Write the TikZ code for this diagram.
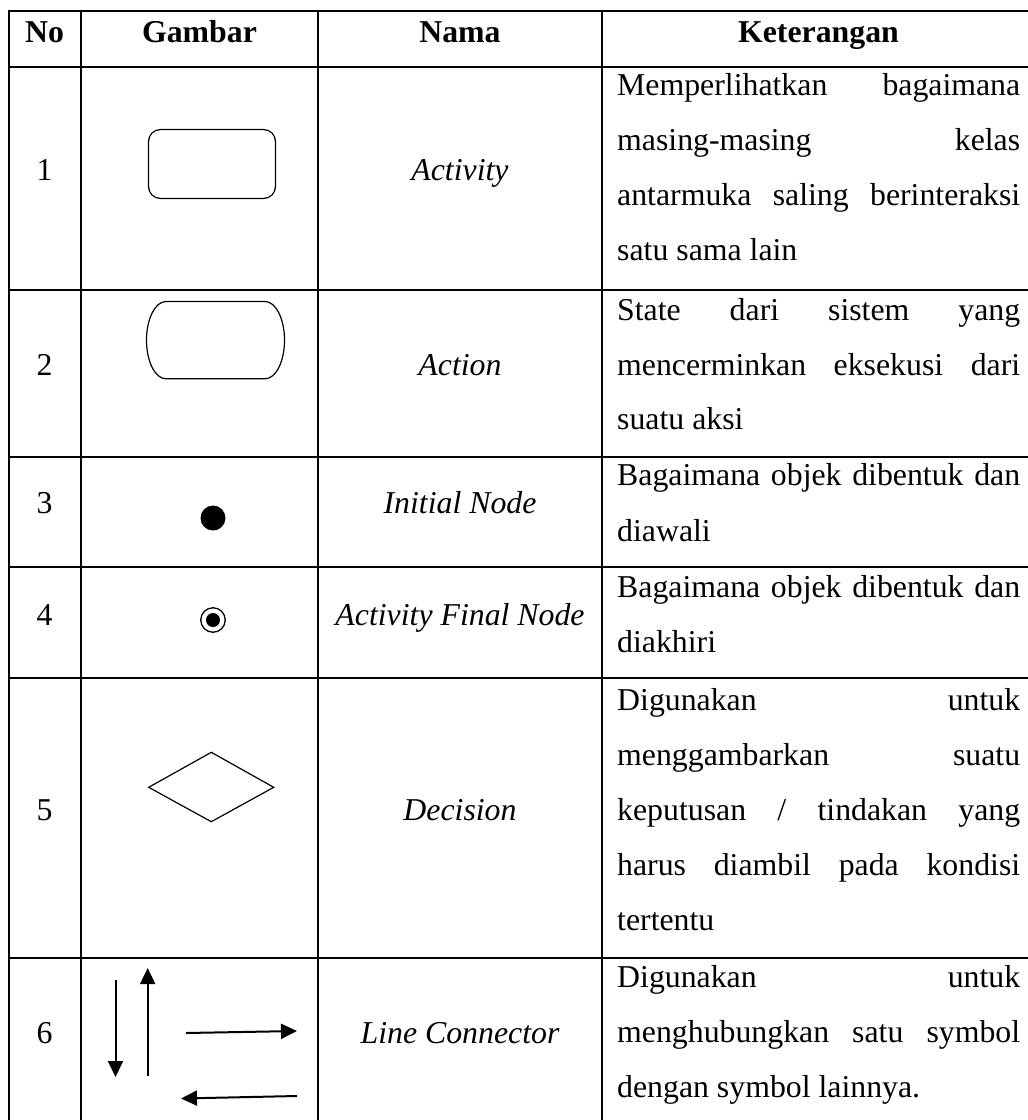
\documentclass[tikz,border=0pt]{standalone}
\usepackage{fontspec}
\setmainfont{Liberation Serif}
\usetikzlibrary{arrows.meta}
\begin{document}
\begin{tikzpicture}[x=1pt,y=-1pt,
  tablerule/.style={line width=2.3pt, line cap=rect},
  symline/.style={line width=1.2pt},
  txt/.style={inner sep=0pt, anchor=base, font=\fontsize{31.8}{55}\selectfont},
  head/.style={txt, font=\fontsize{31.8}{55}\selectfont\bfseries},
  nama/.style={txt, font=\fontsize{31.8}{55}\selectfont\itshape},
  ket/.style={txt, anchor=base west},
  conn/.style={line width=2pt, -{Triangle[length=16pt,width=15pt]}}
]
\useasboundingbox (0,0) rectangle (1028,1120);
\clip (0,0) rectangle (1028,1120);

% table rules
\foreach \yy in {11,67,290,457,567,678,958}
  \draw[tablerule] (9,\yy) -- (1040,\yy);
\foreach \xx in {9,81,318,602}
  \draw[tablerule] (\xx,11) -- (\xx,1130);

% header
\node[head] (hno)  at (44.5,42)  {No};
\node[head] (hgam) at (199.5,42) {Gambar};
\node[head] (hnam) at (460,42)   {Nama};
\node[head] (hket) at (818.5,42) {Keterangan};

% numbers
\node[txt] (n1) at (44.5,180)  {1};
\node[txt] (n2) at (44.5,375)  {2};
\node[txt] (n3) at (44.5,513)  {3};
\node[txt] (n4) at (44.5,625)  {4};
\node[txt] (n5) at (44.5,820)  {5};
\node[txt] (n6) at (44.5,1043) {6};

% names
\node[nama] (m1) at (460,180)  {Activity};
\node[nama] (m2) at (460,375)  {Action};
\node[nama] (m3) at (460,513)  {Initial Node};
\node[nama] (m4) at (460,625)  {Activity Final Node};
\node[nama] (m5) at (460,820)  {Decision};
\node[nama] (m6) at (460,1043) {Line Connector};

% descriptions
\node[ket] (k1a) at (617,95.5)  {\hbox to 403pt{Memperlihatkan\hfill bagaimana}};
\node[ket] (k1b) at (617,150.5) {\hbox to 403pt{masing-masing\hfill kelas}};
\node[ket] (k1c) at (617,205)   {\hbox to 403pt{antarmuka\hfill saling\hfill berinteraksi}};
\node[ket] (k1d) at (617,260)   {satu sama lain};

\node[ket] (k2a) at (617,320) {\hbox to 403pt{State\hfill dari\hfill sistem\hfill yang}};
\node[ket] (k2b) at (617,375) {\hbox to 403pt{mencerminkan\hfill eksekusi\hfill dari}};
\node[ket] (k2c) at (617,429) {suatu aksi};

\node[ket] (k3a) at (617,485) {\hbox to 403pt{Bagaimana\hfill objek\hfill dibentuk\hfill dan}};
\node[ket] (k3b) at (617,541) {diawali};

\node[ket] (k4a) at (617,597) {\hbox to 403pt{Bagaimana\hfill objek\hfill dibentuk\hfill dan}};
\node[ket] (k4b) at (617,652) {diakhiri};

\node[ket] (k5a) at (617,710) {\hbox to 403pt{Digunakan\hfill untuk}};
\node[ket] (k5b) at (617,765) {\hbox to 403pt{menggambarkan\hfill suatu}};
\node[ket] (k5c) at (617,820) {\hbox to 403pt{keputusan\hfill /\hfill tindakan\hfill yang}};
\node[ket] (k5d) at (617,875) {\hbox to 403pt{harus\hfill diambil\hfill pada\hfill kondisi}};
\node[ket] (k5e) at (617,930) {tertentu};

\node[ket] (k6a) at (617,987)  {\hbox to 403pt{Digunakan\hfill untuk}};
\node[ket] (k6b) at (617,1042) {\hbox to 403pt{menghubungkan\hfill satu\hfill symbol}};
\node[ket] (k6c) at (617,1097) {dengan symbol lainnya.};

% symbol: activity
\node[draw, symline, rounded corners=12pt, minimum width=127pt, minimum height=69pt, inner sep=0pt] (act) at (212,164) {};

% symbol: action
\draw[symline] (166,301.5) -- (265,301.5)
  .. controls (275.8,301.5) and (284.5,318.8) .. (284.5,340.2)
  .. controls (284.5,361.6) and (275.8,378.8) .. (265,378.8)
  -- (166,378.8)
  .. controls (155.2,378.8) and (146.5,361.6) .. (146.5,340.2)
  .. controls (146.5,318.8) and (155.2,301.5) .. (166,301.5) -- cycle;

% symbol: initial node
\node[circle, fill=black, minimum size=25pt, inner sep=0pt] (init) at (213,518) {};

% symbol: activity final node
\node[circle, draw, line width=1.3pt, minimum size=24.5pt, inner sep=0pt] (fin) at (213,620) {};
\node[circle, fill=black, minimum size=14pt, inner sep=0pt] (finin) at (213,620) {};

% symbol: decision
\coordinate (dl) at (148.7,787.3);
\coordinate (dt) at (211.3,752.3);
\coordinate (dr) at (273.7,787.3);
\coordinate (db) at (211.3,821.7);
\draw[symline] (dl) -- (dt) -- (dr) -- (db) -- cycle;

% symbol: line connectors
\coordinate (dnA) at (115.5,980);
\coordinate (dnB) at (115.5,1077);
\coordinate (upA) at (147.7,1076);
\coordinate (upB) at (147.7,968);
\coordinate (rtA) at (186,1033);
\coordinate (rtB) at (297,1031);
\coordinate (lfA) at (297,1096);
\coordinate (lfB) at (181,1098.5);
\draw[conn] (dnA) -- (dnB);
\draw[conn] (upA) -- (upB);
\draw[conn] (rtA) -- (rtB);
\draw[conn] (lfA) -- (lfB);
\end{tikzpicture}
\end{document}
